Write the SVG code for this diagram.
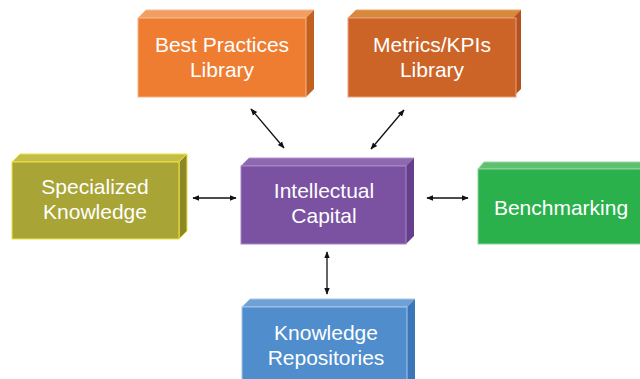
<svg xmlns="http://www.w3.org/2000/svg" width="640" height="379" viewBox="0 0 640 379">
<defs>
<style>
text{font-family:"Liberation Sans",Arial,sans-serif;font-size:21px;fill:#fff;text-anchor:middle}
.c{stroke:#111;stroke-width:1.3;fill:none;marker-start:url(#a);marker-end:url(#a)}
</style>
<marker id="a" viewBox="0 0 10 10" refX="9" refY="5" markerWidth="7" markerHeight="7" orient="auto-start-reverse" markerUnits="userSpaceOnUse"><path d="M0,1 L10,5 L0,9 Z" fill="#111"/></marker>
</defs>
<rect width="640" height="379" fill="#fff"/>
<g id="best-practices">
<polygon points="138,18 146,10 314,10 306,18" fill="#F29E62" stroke="#F7BC94" stroke-width="1"/>
<polygon points="306,18 314,10 314,89 306,97" fill="#C2601F"/>
<rect x="138" y="18" width="168" height="79" fill="#EE7D31" stroke="#F5B58A" stroke-width="1"/>
<text x="222" y="52">Best Practices</text>
<text x="222" y="77">Library</text>
</g>
<g id="metrics">
<polygon points="348,18 356,10 521,10 513,18" fill="#D88A3C" stroke="#EEA070" stroke-width="1"/>
<polygon points="513,18 521,10 521,89 513,97" fill="#B35220"/>
<rect x="348" y="18" width="168" height="79" fill="#CC6428" stroke="#F0A07A" stroke-width="1"/>
<text x="432" y="52">Metrics/KPIs</text>
<text x="432" y="77">Library</text>
</g>
<g id="specialized">
<polygon points="12,162 20,154 187,154 179,162" fill="#C2BE48" stroke="#F0E040" stroke-width="1"/>
<polygon points="179,162 187,154 187,231 179,239" fill="#8C8828" stroke="#F0E040" stroke-width="1"/>
<rect x="12" y="162" width="167" height="77" fill="#A8A436" stroke="#F0E040" stroke-width="1"/>
<text x="95" y="194">Specialized</text>
<text x="95" y="219">Knowledge</text>
</g>
<g id="intellectual">
<polygon points="241,166 249,158 414,158 406,166" fill="#8E68B0" stroke="#B394CC" stroke-width="1"/>
<polygon points="406,166 414,158 414,236 406,244" fill="#653F8C"/>
<rect x="241" y="166" width="165" height="78" fill="#7B51A1" stroke="#A788C2" stroke-width="1"/>
<text x="324" y="198">Intellectual</text>
<text x="324" y="223">Capital</text>
</g>
<g id="benchmarking">
<polygon points="478,169 484,162 645,162 640,169" fill="#5FC070" stroke="#9AD8A4" stroke-width="1"/>
<rect x="478" y="169" width="170" height="75" fill="#2BB14C" stroke="#8FD49C" stroke-width="1"/>
<text x="561" y="215">Benchmarking</text>
</g>
<g id="repositories">
<polygon points="242,307 250,299 415,299 407,307" fill="#6FA0D6" stroke="#A6C6E8" stroke-width="1"/>
<polygon points="407,307 415,299 415,380 407,380" fill="#3A76B8"/>
<rect x="242" y="307" width="165" height="80" fill="#4F8DCD" stroke="#A6C6E8" stroke-width="1"/>
<text x="326" y="340">Knowledge</text>
<text x="326" y="365">Repositories</text>
</g>
<g id="connectors">
<line class="c" x1="251" y1="109" x2="284" y2="148"/>
<line class="c" x1="404" y1="110" x2="371" y2="149"/>
<line class="c" x1="193" y1="198" x2="236" y2="198"/>
<line class="c" x1="427" y1="198" x2="468" y2="198"/>
<line class="c" x1="327" y1="252" x2="327" y2="294"/>
</g>
</svg>
